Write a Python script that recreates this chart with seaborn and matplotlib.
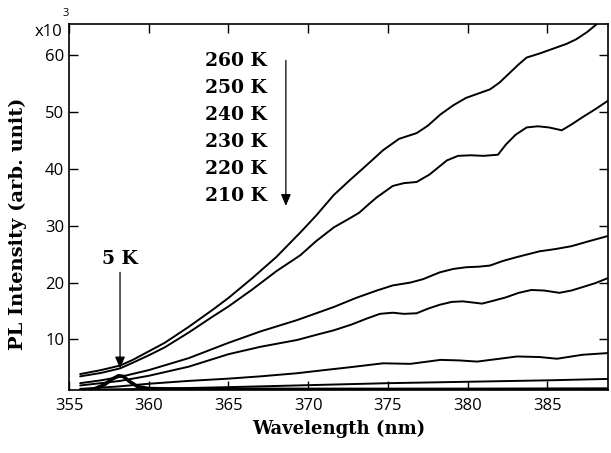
import numpy as np
import pandas as pd
import matplotlib
matplotlib.use("Agg")
import matplotlib.pyplot as plt
import seaborn as sns

# PL spectra (intensity in units of 10^3)
# --------------------------------
wl_260 = [355.7, 357, 358.2, 359, 360, 361, 362.5, 364, 365, 366.5, 368, 369.5,
          370.5, 371.6, 372.6, 373.6, 374.7, 375.7, 376.8, 377.5, 378.3, 379.1,
          379.9, 380.7, 381.4, 382.0, 382.6, 383.2, 383.7, 384.5, 385.6, 386.2,
          386.8, 387.5, 388.1, 388.8]
pl_260 = [3.9, 4.6, 5.4, 6.4, 7.9, 9.4, 12.2, 15.2, 17.3, 20.8, 24.5, 28.8,
          31.8, 35.4, 38.0, 40.5, 43.3, 45.3, 46.3, 47.6, 49.6, 51.2,
          52.5, 53.3, 54.0, 55.2, 56.8, 58.4, 59.6, 60.3, 61.4, 62.0,
          62.8, 64.1, 65.5, 66.8]

wl_250 = [355.7, 357, 358.2, 359, 360, 361, 362.5, 364, 365, 366.5, 368, 369.5,
          370.5, 371.6, 372.6, 373.2, 373.8, 374.3, 375.3, 376.0, 376.8, 377.6,
          378.7, 379.4, 380.2, 381.0, 381.9, 382.4, 383.0, 383.7, 384.4, 385.1,
          385.9, 386.5, 387.2, 388.0, 388.8]
pl_250 = [3.5, 4.1, 4.9, 5.9, 7.2, 8.6, 11.2, 14.0, 15.8, 18.8, 22.0, 24.8,
          27.3, 29.7, 31.3, 32.3, 33.8, 35.0, 37.0, 37.5, 37.7, 39.0,
          41.5, 42.3, 42.4, 42.3, 42.5, 44.3, 46.0, 47.3, 47.5, 47.3,
          46.8, 47.8, 49.1, 50.5, 52.0]

wl_240 = [355.7, 357, 358.2, 360, 362.5, 365, 367, 369.3, 370.5, 371.6, 373,
          374.3, 375.3, 376.4, 377.2, 378.25, 379.1, 379.9, 380.7, 381.4, 382.2,
          383.1, 384.5, 385.5, 386.5, 387.5, 388.8]
pl_240 = [2.3, 2.8, 3.4, 4.6, 6.7, 9.4, 11.4, 13.4, 14.6, 15.7, 17.3,
          18.6, 19.5, 20.0, 20.6, 21.8, 22.4, 22.7, 22.8, 23.0, 23.8,
          24.5, 25.5, 25.9, 26.4, 27.2, 28.2]

wl_230 = [355.7, 357, 358.2, 360, 362.5, 365, 367, 369.3, 370.5, 371.6, 372.7,
          373.7, 374.5, 375.3, 376.0, 376.8, 377.5, 378.25, 379.0, 379.7, 380.3,
          380.9, 381.6, 382.4, 383.2, 384.0, 384.8, 385.75, 386.5, 387.2, 388.0,
          388.8]
pl_230 = [1.9, 2.3, 2.7, 3.6, 5.2, 7.4, 8.7, 9.9, 10.8, 11.6, 12.6,
          13.7, 14.5, 14.7, 14.5, 14.6, 15.4, 16.1, 16.6, 16.7, 16.5,
          16.3, 16.8, 17.4, 18.2, 18.7, 18.6, 18.2, 18.6, 19.2, 19.9,
          20.8]

wl_220 = [355.7, 358, 360, 362.5, 365, 367, 369.3, 371, 372.6, 374.7, 376.4,
          378.3, 379.5, 380.6, 382, 383.1, 384.5, 385.6, 387.2, 388.8]
pl_220 = [1.3, 1.7, 2.2, 2.7, 3.1, 3.5, 4.05, 4.6, 5.1, 5.8, 5.7,
          6.4, 6.3, 6.1, 6.6, 7.0, 6.9, 6.6, 7.3, 7.6]

wl_210 = [355.7, 360, 365, 369.3, 375, 381, 385, 388.8]
pl_210 = [1.15, 1.3, 1.6, 1.9, 2.3, 2.6, 2.8, 3.05]

wl_5 = [355.7, 356.5, 357.2, 357.7, 358.1, 358.4, 358.8, 359.3, 360, 362,
        370, 380, 388.8]
pl_5 = [1.0, 1.2, 2.0, 3.0, 3.6, 3.5, 2.6, 1.7, 1.35, 1.25, 1.2, 1.2, 1.25]

temps = ["260 K", "250 K", "240 K", "230 K", "220 K", "210 K"]

spectra = {
    "260 K": (wl_260, pl_260),
    "250 K": (wl_250, pl_250),
    "240 K": (wl_240, pl_240),
    "230 K": (wl_230, pl_230),
    "220 K": (wl_220, pl_220),
    "210 K": (wl_210, pl_210),
    "5 K": (wl_5, pl_5),
}

# %%
# 描画
# --------------------------------
sns.set_style("ticks", {"text.color": "black", "axes.labelcolor": "black",
                        "xtick.color": "black", "ytick.color": "black",
                        "axes.edgecolor": "black"})
plt.rcParams["font.family"] = ["Open Sans", "DejaVu Sans"]

fig = plt.figure(figsize=(6.11, 4.53), dpi=100)
ax = fig.add_axes([69 / 611, 1 - 390 / 453, 539 / 611, 366 / 453])

for name, (wl, pl) in spectra.items():
    lw = 2.6 if name == "5 K" else 1.4
    sns.lineplot(x=wl, y=pl, ax=ax, color="black", lw=lw, estimator=None,
                 sort=False, legend=False)

ax.set_xlim(355.05, 388.8)
ax.set_ylim(1.1, 65.5)
ax.set_xticks([355, 360, 365, 370, 375, 380, 385])
ax.set_yticks([10, 20, 30, 40, 50, 60])
ax.tick_params(direction="in", length=6.5, width=1.0, top=True, right=True,
               labelsize=12)
ax.tick_params(axis="x", pad=6)
for sp in ax.spines.values():
    sp.set_linewidth(1.2)

bold_serif = dict(family="DejaVu Serif", fontweight="bold")
ax.set_xlabel("Wavelength (nm)", fontsize=13, labelpad=4, **bold_serif)
ax.set_ylabel("PL Intensity (arb. unit)", fontsize=14, **bold_serif)
ax.yaxis.set_label_coords(-0.078, 0.454)

# x10^3 multiplier
fig.text(62 / 611, 1 - 32 / 453, "x10", ha="right", va="center", fontsize=12)
fig.text(66 / 611, 1 - 14 / 453, "3", ha="center", va="center", fontsize=8)

# temperature list and arrow
for i, t in enumerate(temps):
    ax.text(363.55, 59.0 - i * 4.75, t, ha="left", va="center", fontsize=13.5,
            **bold_serif)
ax.annotate("", xy=(368.6, 33.0), xytext=(368.6, 59.6),
            arrowprops=dict(arrowstyle="-|>,head_width=0.3,head_length=0.7",
                            color="black", lw=0.9))

ax.text(358.2, 24.2, "5 K", ha="center", va="center", fontsize=13.5,
        **bold_serif)
ax.annotate("", xy=(358.2, 4.4), xytext=(358.2, 22.3),
            arrowprops=dict(arrowstyle="-|>,head_width=0.3,head_length=0.7",
                            color="black", lw=0.9))

fig.savefig("out.png", dpi=100)
